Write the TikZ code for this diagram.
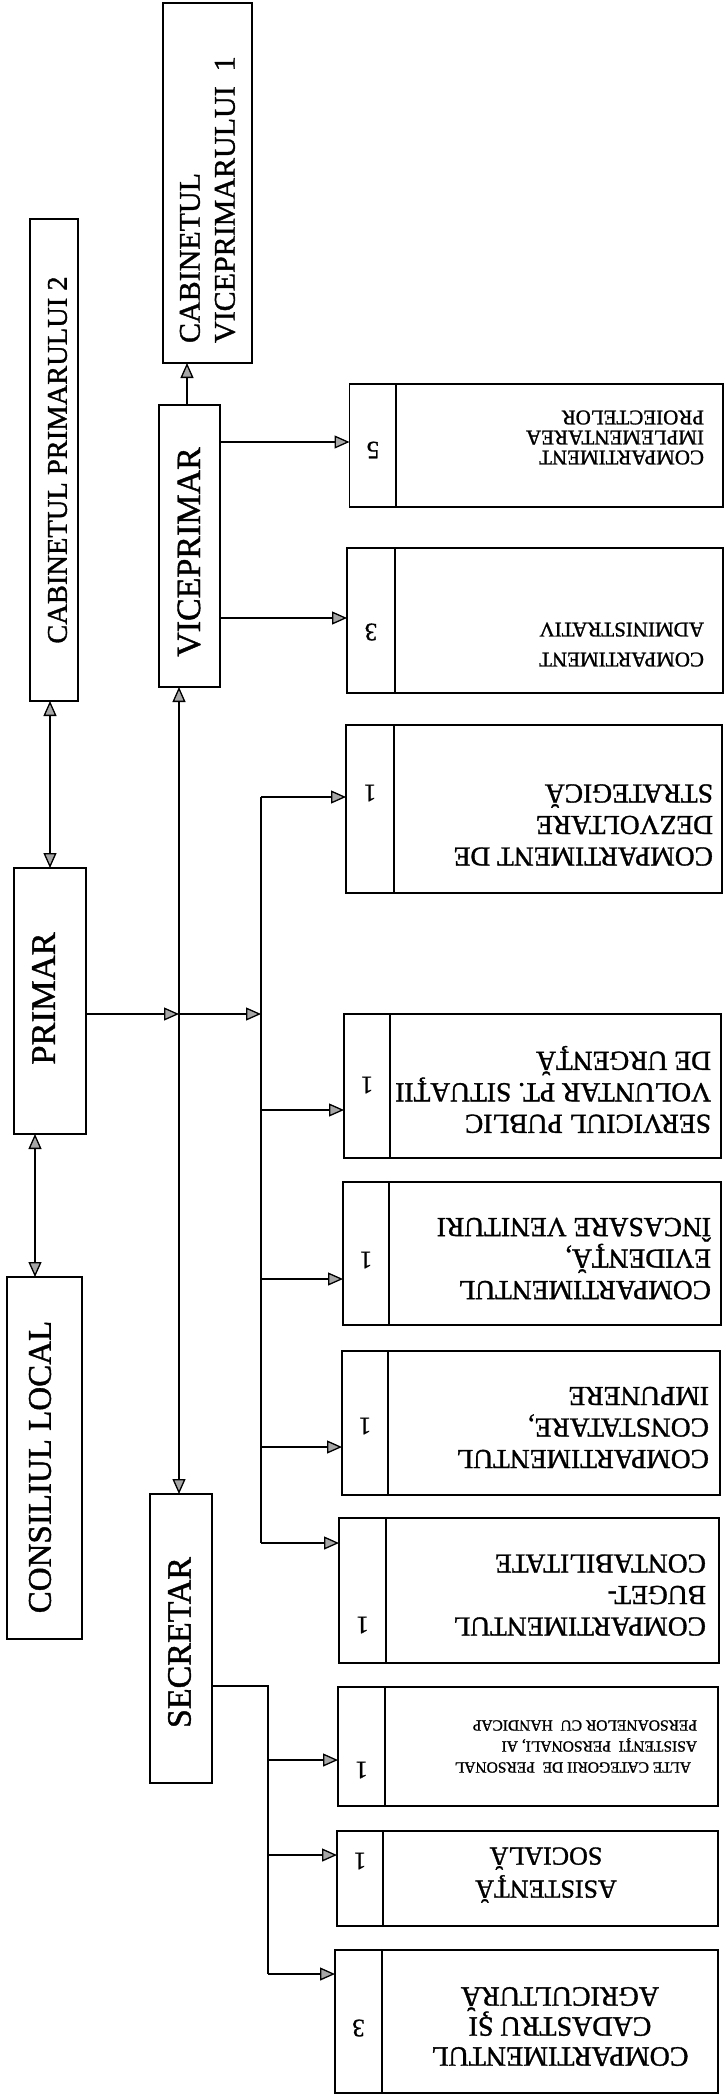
\documentclass[tikz,border=0pt]{standalone}
\usepackage{fontspec}
\setmainfont{Liberation Serif}[FakeBold=1.2]
\usetikzlibrary{arrows.meta}
\newcommand\fsz[2]{\fontsize{#1pt}{#2pt}\selectfont}
\begin{document}
\begin{tikzpicture}[x=1pt,y=-1pt,
  box/.style={draw=black, line width=1.7pt, inner sep=0pt, outer sep=0pt},
  divline/.style={draw=black, line width=1.7pt},
  conn/.style={draw=black, line width=1.3pt},
  arr/.style={conn, -{Triangle[length=15pt,width=13pt,fill=gray!70]}},
  darr/.style={conn, {Triangle[length=15pt,width=13pt,fill=gray!70]}-{Triangle[length=15pt,width=13pt,fill=gray!70]}},
  lbl/.style={inner sep=0pt, outer sep=0pt},
  rtxt/.style={lbl, rotate=180, align=left, anchor=west},
  ctxt/.style={lbl, rotate=180, align=center, anchor=center},
  num/.style={lbl, rotate=180, font={\fsz{25}{25}}},
  vtxt/.style={lbl, rotate=90}
]
\useasboundingbox (0,0) rectangle (724,2096);
\fill[white] (0,0) rectangle (724,2096);

% ---------- left column boxes ----------
\node[box, minimum width=89pt, minimum height=360pt] (cabv) at (207.5,183) {};
\node[box, minimum width=48pt, minimum height=482pt] (cabp) at (54,460) {};
\node[box, minimum width=61pt, minimum height=282pt] (vice) at (189.5,546) {};
\node[box, minimum width=72pt, minimum height=266pt] (primar) at (50,1001) {};
\node[box, minimum width=75pt, minimum height=362pt] (consil) at (44.5,1458) {};
\node[box, minimum width=62pt, minimum height=289pt] (secr) at (181,1638.5) {};

\node[vtxt, font={\fsz{30}{35}}, align=left, anchor=west] (t-cabv) at (207.5,343) {CABINETUL\\VICEPRIMARULUI\ \ 1};
\node[vtxt, font={\fsz{28.5}{30}}] (t-cabp) at (57.5,460) {CABINETUL PRIMARULUI 2};
\node[vtxt, font={\fsz{34}{36}}] (t-vice) at (189,552) {VICEPRIMAR};
\node[vtxt, font={\fsz{34.5}{36}}] (t-primar) at (43.5,998.5) {PRIMAR};
\node[vtxt, font={\fsz{33}{36}}] (t-consil) at (40,1467) {CONSILIUL LOCAL};
\node[vtxt, font={\fsz{34}{36}}] (t-secr) at (179.5,1642.5) {SECRETAR};

% ---------- right column boxes ----------
\node[box, minimum width=373.5pt, minimum height=123pt] (impl) at (536.25,445.5) {};
\node[box, minimum width=376pt, minimum height=145pt] (admin) at (535,620.5) {};
\node[box, minimum width=376pt, minimum height=168pt] (dezv) at (534,809) {};
\node[box, minimum width=377pt, minimum height=144pt] (serv) at (532.5,1086) {};
\node[box, minimum width=378pt, minimum height=143pt] (evid) at (532,1253.5) {};
\node[box, minimum width=378pt, minimum height=144pt] (const) at (531,1423) {};
\node[box, minimum width=380pt, minimum height=145pt] (buget) at (529,1590.5) {};
\node[box, minimum width=380pt, minimum height=119pt] (alte) at (528,1746.5) {};
\node[box, minimum width=381pt, minimum height=95pt] (asist) at (527.5,1878.5) {};
\node[box, minimum width=383pt, minimum height=143pt] (cadas) at (526.5,2021.5) {};

\draw[divline] ([xshift=46.5pt]impl.north west) -- ([xshift=46.5pt]impl.south west);
\draw[divline] ([xshift=48pt]admin.north west) -- ([xshift=48pt]admin.south west);
\draw[divline] ([xshift=48pt]dezv.north west) -- ([xshift=48pt]dezv.south west);
\draw[divline] ([xshift=46pt]serv.north west) -- ([xshift=46pt]serv.south west);
\draw[divline] ([xshift=46pt]evid.north west) -- ([xshift=46pt]evid.south west);
\draw[divline] ([xshift=46pt]const.north west) -- ([xshift=46pt]const.south west);
\draw[divline] ([xshift=47pt]buget.north west) -- ([xshift=47pt]buget.south west);
\draw[divline] ([xshift=47pt]alte.north west) -- ([xshift=47pt]alte.south west);
\draw[divline] ([xshift=46pt]asist.north west) -- ([xshift=46pt]asist.south west);
\draw[divline] ([xshift=47pt]cadas.north west) -- ([xshift=47pt]cadas.south west);

% texts of right boxes (upside down)
\node[rtxt, font={\fsz{21}{20}}] (t-impl) at (704,437.5) {COMPARTIMENT\\IMPLEMENTAREA\\PROIECTELOR};
\node[rtxt, font={\fsz{21}{30}}] (t-admin) at (704,644.5) {COMPARTIMENT\\ADMINISTRATIV};
\node[rtxt, font={\fsz{27.5}{31.5}}] (t-dezv) at (713,825) {COMPARTIMENT DE\\DEZVOLTARE\\STRATEGICĂ};
\node[rtxt, font={\fsz{27.5}{31.5}}] (t-serv) at (711,1089.5) {SERVICIUL PUBLIC\\VOLUNTAR PT. SITUAŢII\\DE URGENŢĂ};
\node[rtxt, font={\fsz{27.5}{31.5}}] (t-evid) at (711,1258.5) {COMPARTIMENTUL\\EVIDENŢĂ,\\ÎNCASARE VENITURI};
\node[rtxt, font={\fsz{27.5}{31.5}}] (t-const) at (709,1427.5) {COMPARTIMENTUL\\CONSTATARE,\\IMPUNERE};
\node[rtxt, font={\fsz{27.5}{31.5}}] (t-buget) at (706,1595) {COMPARTIMENTUL\\BUGET-\\CONTABILITATE};
\node[rtxt, font={\fsz{15.5}{21}}] (t-alte) at (697,1746.5) {\hspace*{6pt}ALTE CATEGORII DE\ \ PERSONAL\\ASISTENŢI\ \ PERSONALI, AI\\PERSOANELOR CU\ \ HANDICAP};
\node[ctxt, font={\fsz{26}{33}}] (t-asist) at (546,1875) {ASISTENŢĂ\\SOCIALĂ};
\node[ctxt, font={\fsz{28}{30}}] (t-cadas) at (560,2026.5) {COMPARTIMENTUL\\CADASTRU ŞI\\AGRICULTURĂ};

% numbers
\node[num] (n-impl) at (373,450) {5};
\node[num] (n-admin) at (371,632) {3};
\node[num] (n-dezv) at (370,793) {1};
\node[num] (n-serv) at (367,1085) {1};
\node[num] (n-evid) at (366,1260) {1};
\node[num] (n-const) at (365,1426) {1};
\node[num] (n-buget) at (362.5,1625) {1};
\node[num] (n-alte) at (361.5,1770) {1};
\node[num] (n-asist) at (360,1861) {1};
\node[num] (n-cadas) at (358.5,2028) {3};

% ---------- connectors ----------
\draw[darr] (primar.north) -- (primar.north |- cabp.south);
\draw[darr] ([xshift=-15pt]primar.south) -- ([xshift=-15pt]primar.south |- consil.north);
\draw[arr] ([xshift=-2.5pt]vice.north) -- ([xshift=-2.5pt]vice.north |- cabv.south);
\draw[arr] (vice.east |- 0,442) -- (impl.west |- 0,442);
\draw[arr] (vice.east |- 0,618) -- (admin.west |- 0,618);
\draw[darr] (vice.south -| 179,0) -- (secr.north -| 179,0);

\coordinate (j1) at (179,1014);
\coordinate (j2) at (261,1014);
\draw[arr] (primar.east |- j1) -- (j1);
\draw[arr] (j1) -- (j2);

\coordinate (t0) at (261,797);
\coordinate (t1) at (261,1110);
\coordinate (t2) at (261,1279);
\coordinate (t3) at (261,1447);
\coordinate (t4) at (261,1543);
\draw[conn] (t0) -- (t4);
\draw[arr] (t0) -- (t0 -| dezv.west);
\draw[arr] (t1) -- (t1 -| serv.west);
\draw[arr] (t2) -- (t2 -| evid.west);
\draw[arr] (t3) -- (t3 -| const.west);
\draw[arr] (t4) -- (t4 -| buget.west);

\coordinate (s0) at (268,1686);
\coordinate (s1) at (268,1760);
\coordinate (s2) at (268,1855);
\coordinate (s3) at (268,1974);
\draw[conn] (secr.east |- s0) -- (s0) -- (s3);
\draw[arr] (s1) -- (s1 -| alte.west);
\draw[arr] (s2) -- (s2 -| asist.west);
\draw[arr] (s3) -- (s3 -| cadas.west);
\end{tikzpicture}
\end{document}
